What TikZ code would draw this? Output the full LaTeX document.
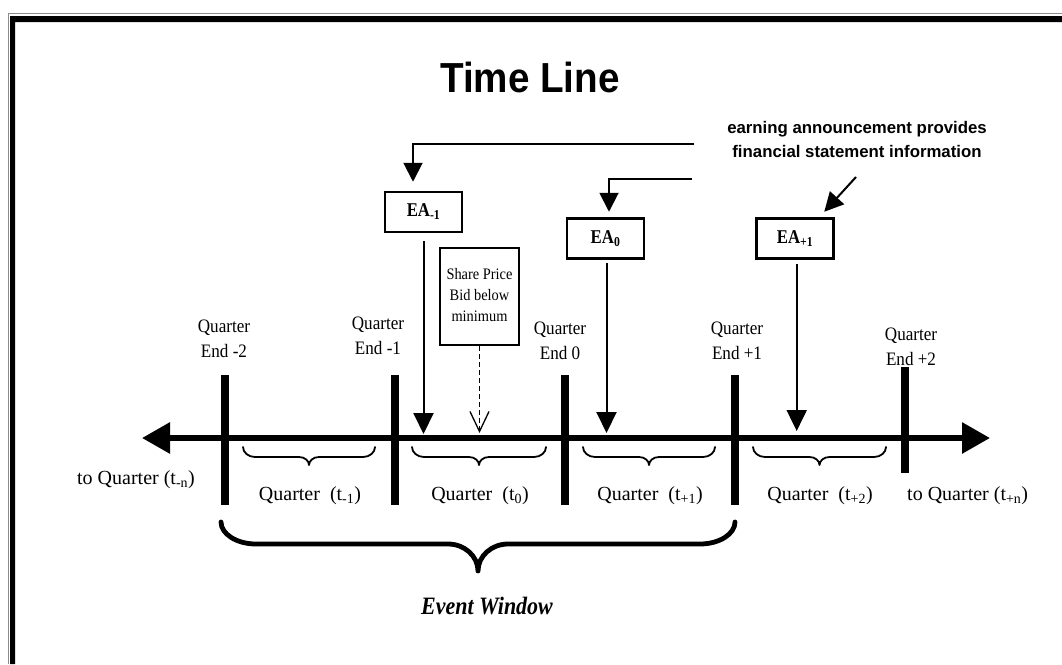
\documentclass[tikz,border=0pt]{standalone}
\usepackage{fontspec}
\usepackage{graphicx}
\setmainfont{Liberation Serif}
\newfontfamily\headfont{Liberation Sans}
\usetikzlibrary{arrows.meta}

% font size with explicit baseline skip
\newcommand{\fsz}[2]{\fontsize{#1}{#2}\selectfont}

% curly brace opening upwards: style, x left, x right, y ends, y flat, y tip, end width, middle width
\newcommand{\curlybrace}[8]{%
  \pgfmathsetmacro{\cbm}{(#2+#3)/2}%
  \draw[#1] (#2,#4) .. controls (#2,{#4+0.55*(#5-#4)}) and ({#2+0.45*#7},#5) .. ({#2+#7},#5)
    -- ({\cbm-#8},#5) .. controls ({\cbm-0.45*#8},#5) and (\cbm,{#5+0.45*(#6-#5)}) .. (\cbm,#6)
    .. controls (\cbm,{#5+0.45*(#6-#5)}) and ({\cbm+0.45*#8},#5) .. ({\cbm+#8},#5)
    -- ({#3-#7},#5) .. controls ({#3-0.45*#7},#5) and (#3,{#4+0.55*(#5-#4)}) .. (#3,#4);
}

\begin{document}
\begin{tikzpicture}[x=1pt,y=-1pt,
  eabox/.style={draw, line width=2.5pt, minimum width=77pt, minimum height=40pt,
                inner sep=0pt, font=\bfseries\fsz{19.5}{21}},
  qend/.style={anchor=north, align=center, inner sep=0pt, xscale=0.9, font=\fsz{19}{25}},
  qlab/.style={anchor=base, inner sep=0pt, font=\fsz{20}{24}},
  tickbar/.style={line width=8pt},
  feed/.style={line width=2pt, -{Triangle[length=19pt,width=19pt]}},
  drop/.style={line width=2pt, -{Triangle[length=21pt,width=20pt]}},
  smallbrace/.style={line width=1.8pt, line cap=round, line join=round},
  bigbrace/.style={line width=4.8pt, line cap=round, line join=round},
]
\useasboundingbox (0,0) rectangle (1062,664);
\fill[white] (0,0) rectangle (1062,664);

% page frame: thin outer rule and heavy inner rule
\draw[black!45, line width=1.2pt] (8.5,664) -- (8.5,13.5) -- (1062,13.5);
\fill[black] (10,664) -- (10,16) -- (1062,16) -- (1062,22) -- (15,22) -- (15,664) -- cycle;

% title
\node[font=\headfont\bfseries\fsz{42}{48}, xscale=0.92, anchor=base, inner sep=0pt] (title) at (530,92) {Time Line};

% note on the earnings announcements
\node[font=\headfont\bfseries\fsz{16.8}{24}, align=center, anchor=north, inner sep=0pt] (note) at (857,121)
  {earning announcement provides\\financial statement information};

% time axis
\coordinate (axL) at (142,438);
\coordinate (axR) at (990,438);
\draw[line width=6pt, {Triangle[length=28pt,width=30pt]}-{Triangle[length=28pt,width=30pt]}] (axL) -- (axR);

% quarter-end marks
\foreach \qx in {225,395,565,735} \draw[tickbar] (\qx,375) -- (\qx,505);
\draw[tickbar] (905,367) -- (905,473);

\node[qend] (qe1) at (224,320) {Quarter\\End -2};
\node[qend] (qe2) at (378,317) {Quarter\\End -1};
\node[qend] (qe3) at (560,322) {Quarter\\End 0};
\node[qend] (qe4) at (737,322) {Quarter\\End +1};
\node[qend] (qe5) at (911,328) {Quarter\\End +2};

% earnings announcement boxes
\node[eabox] (eam) at (423.5,212) {\scalebox{0.86}[1]{EA\textsubscript{-1}}};
\node[eabox] (eaz) at (605.5,238.5) {\scalebox{0.86}[1]{EA\textsubscript{0}}};
\node[eabox] (eap) at (795,238.5) {\scalebox{0.86}[1]{EA\textsubscript{+1}}};

% share price event
\node[draw, line width=2.5pt, minimum width=79pt, minimum height=97pt, inner sep=0pt] (spb) at (479.5,296.5)
  {\scalebox{0.9}[1]{\fsz{16}{21}\begin{tabular}{@{}c@{}}Share Price\\Bid below\\minimum\end{tabular}}};

% note arrows into the boxes
\coordinate (f1) at (694,144);
\coordinate (f2) at (692,179);
\coordinate (f3) at (856,177);
\draw[feed, shorten >=9pt] (f1) -| ([xshift=-10.5pt]eam.north);
\draw[feed, shorten >=5.5pt] (f2) -| ([xshift=3.5pt]eaz.north);
\draw[feed] (f3) -- ([xshift=-10.5pt,yshift=5.5pt]eap.north east);

% announcements dropping onto the axis
\draw[drop, shorten <=8pt, shorten >=4pt] (eam.south) -- (eam.south |- axL);
\draw[drop, shorten <=3.5pt, shorten >=5pt] ([xshift=1pt]eaz.south) -- ([xshift=1pt]eaz.south |- axL);
\draw[drop, shorten <=4.5pt, shorten >=7pt] ([xshift=1.7pt]eap.south) -- ([xshift=1.7pt]eap.south |- axL);
\draw[line width=1.3pt, dash pattern=on 5pt off 3pt, -{Straight Barb[length=20pt,width=19pt]}, shorten >=5pt]
  (spb.south) -- (spb.south |- axL);

% quarter braces
\curlybrace{smallbrace}{243}{375}{447}{457}{465}{12}{10}
\curlybrace{smallbrace}{412}{546}{447}{457}{465}{12}{10}
\curlybrace{smallbrace}{583}{715}{447}{457}{465}{12}{10}
\curlybrace{smallbrace}{753}{886}{447}{457}{465}{12}{10}

% quarter labels
\node[qlab] (ql1) at (310,500) {Quarter\ \ (t\textsubscript{-1})};
\node[qlab] (ql2) at (480,500) {Quarter\ \ (t\textsubscript{0})};
\node[qlab] (ql3) at (650,500) {Quarter\ \ (t\textsubscript{+1})};
\node[qlab] (ql4) at (820,500) {Quarter\ \ (t\textsubscript{+2})};
\node[qlab] (qmn) at (136,484) {to Quarter (t\textsubscript{-n})};
\node[qlab, anchor=base west] (qpn) at (907,500) {to Quarter (t\textsubscript{+n})};

% event window
\curlybrace{bigbrace}{221}{735}{522}{544}{571}{35}{30}
\node[font=\bfseries\itshape\fsz{25}{30}, xscale=0.88, anchor=base, inner sep=0pt] (evw) at (487,614) {Event Window};
\end{tikzpicture}
\end{document}
